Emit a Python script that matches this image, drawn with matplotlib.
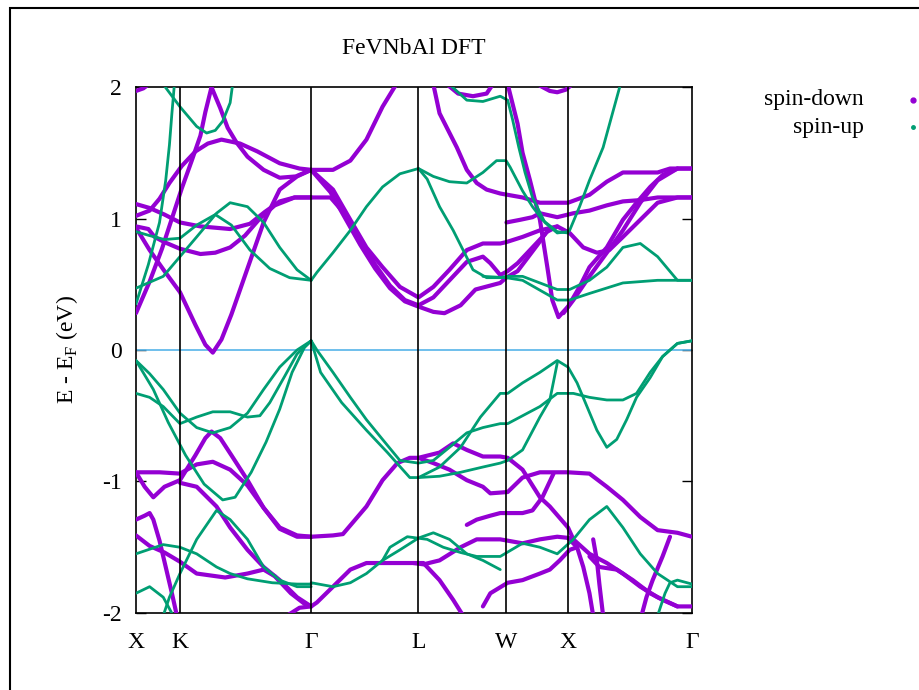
import matplotlib
matplotlib.use("Agg")
import matplotlib.pyplot as plt
from matplotlib.patches import Rectangle
from matplotlib.lines import Line2D

plt.rcParams['font.family'] = ['Liberation Serif', 'DejaVu Serif']
plt.rcParams['mathtext.fontset'] = 'custom'
plt.rcParams['mathtext.rm'] = 'Liberation Serif'
plt.rcParams['axes.unicode_minus'] = False

# high symmetry points (path length, 2pi/a)
kpts = [0.0, 0.354, 1.414, 2.280, 2.987, 3.487, 4.487]
klabels = ['X', 'K', 'Γ', 'L', 'W', 'X', 'Γ']
yticks = [-2, -1, 0, 1, 2]

# spin-down bands  (k, E-Ef)
dn01 = [(0, 1.97), (0.06, 1.99), (0.10, 2.02)]
dn02 = [(0, 0.28), (0.11, 0.52), (0.21, 0.77), (0.29, 1.00), (0.37, 1.23), (0.45, 1.44),
        (0.52, 1.63), (0.56, 1.81), (0.61, 2.0), (0.63, 2.05)]
dn03 = [(0, 1.02), (0.11, 1.06), (0.19, 1.15), (0.27, 1.27), (0.37, 1.40), (0.48, 1.51),
        (0.58, 1.57), (0.69, 1.60), (0.84, 1.57), (0.98, 1.51), (1.16, 1.42), (1.32, 1.38),
        (1.414, 1.37)]
dn04 = [(0.60, 2.02), (0.68, 1.84), (0.74, 1.69), (0.81, 1.58), (0.90, 1.47), (1.03, 1.37),
        (1.16, 1.31), (1.29, 1.32), (1.414, 1.37)]
dn05 = [(0, 1.11), (0.11, 1.08), (0.23, 1.03), (0.355, 0.97), (0.52, 0.94), (0.76, 0.92),
        (0.92, 0.96), (1.04, 1.05), (1.16, 1.13), (1.28, 1.16), (1.414, 1.16)]
dn06 = [(0, 0.94), (0.10, 0.92), (0.15, 0.86), (0.23, 0.82), (0.355, 0.77), (0.52, 0.73),
        (0.64, 0.74), (0.76, 0.78), (0.88, 0.87), (1.00, 1.00), (1.12, 1.10), (1.28, 1.16),
        (1.414, 1.16)]
dn07 = [(0, 0.93), (0.11, 0.76), (0.23, 0.60), (0.355, 0.44), (0.48, 0.19), (0.56, 0.04),
        (0.62, -0.02), (0.69, 0.08), (0.77, 0.27), (0.90, 0.62), (1.03, 0.97), (1.16, 1.22),
        (1.30, 1.32), (1.414, 1.37)]
dn08 = [(0, -0.93), (0.19, -0.93), (0.355, -0.94), (0.49, -0.87), (0.62, -0.85), (0.76, -0.91),
        (0.90, -1.03), (1.03, -1.20), (1.16, -1.35), (1.30, -1.41), (1.414, -1.42)]
dn09 = [(0, -0.93), (0.07, -1.04), (0.14, -1.12), (0.23, -1.04), (0.355, -0.99), (0.48, -0.80),
        (0.56, -0.67), (0.61, -0.62), (0.68, -0.67), (0.77, -0.80), (0.90, -0.99), (1.03, -1.20),
        (1.16, -1.36), (1.30, -1.42), (1.414, -1.42)]
dn10 = [(0.355, -1.01), (0.49, -1.04), (0.65, -1.19), (0.76, -1.35), (0.90, -1.52), (1.03, -1.65),
        (1.16, -1.75), (1.30, -1.88), (1.414, -1.95)]
dn11 = [(0, -1.41), (0.11, -1.49), (0.23, -1.54), (0.355, -1.61), (0.49, -1.70), (0.72, -1.73),
        (0.90, -1.70), (1.03, -1.67), (1.12, -1.72), (1.25, -1.85), (1.36, -1.93), (1.414, -1.95)]
dn12 = [(0, -1.29), (0.07, -1.26), (0.11, -1.24), (0.14, -1.29), (0.19, -1.45), (0.24, -1.65),
        (0.29, -1.85), (0.33, -2.02)]
dn13 = [(1.22, -2.02), (1.32, -1.96), (1.414, -1.95)]
dn14 = [(1.414, 1.37), (1.59, 1.37), (1.73, 1.44), (1.86, 1.60), (1.99, 1.85), (2.10, 2.02)]
dn15 = [(1.414, 1.37), (1.59, 1.22), (1.73, 0.99), (1.86, 0.78), (1.99, 0.63), (2.13, 0.48),
        (2.28, 0.40), (2.40, 0.48), (2.53, 0.61), (2.67, 0.76), (2.80, 0.81), (2.94, 0.81),
        (2.987, 0.82), (3.12, 0.86), (3.26, 0.91), (3.40, 0.94), (3.50, 0.89), (3.61, 0.78),
        (3.72, 0.74), (3.82, 0.76), (3.93, 0.86), (4.07, 0.99), (4.21, 1.12), (4.37, 1.16),
        (4.487, 1.16)]
dn16 = [(1.414, 1.16), (1.57, 1.16), (1.69, 1.03), (1.81, 0.84), (1.93, 0.65), (2.05, 0.49),
        (2.17, 0.38), (2.28, 0.34), (2.40, 0.40), (2.53, 0.53), (2.67, 0.67), (2.80, 0.71),
        (2.86, 0.66), (2.94, 0.57), (3.00, 0.60), (3.08, 0.66), (3.16, 0.74), (3.26, 0.84),
        (3.32, 0.90), (3.40, 0.94)]
dn17 = [(1.414, 1.37), (1.57, 1.20), (1.69, 1.00), (1.81, 0.80), (1.93, 0.62), (2.05, 0.47),
        (2.17, 0.37), (2.28, 0.33), (2.40, 0.29), (2.49, 0.28), (2.62, 0.34), (2.74, 0.46),
        (2.86, 0.49), (2.94, 0.51), (2.987, 0.55), (3.08, 0.60), (3.16, 0.70), (3.24, 0.80),
        (3.30, 0.88)]
dn18 = [(2.40, 2.02), (2.45, 1.80), (2.59, 1.54), (2.67, 1.37), (2.75, 1.27), (2.83, 1.22),
        (2.94, 1.19), (3.12, 1.16), (3.26, 1.12), (3.487, 1.12), (3.66, 1.18), (3.80, 1.28),
        (3.93, 1.35), (4.21, 1.35), (4.31, 1.38), (4.487, 1.38)]
dn19 = [(2.99, 0.97), (3.10, 0.99), (3.20, 1.01), (3.26, 1.04), (3.40, 1.01), (3.53, 1.04),
        (3.66, 1.06), (3.80, 1.10), (3.93, 1.13), (4.07, 1.14), (4.21, 1.16), (4.487, 1.16)]
dn20 = [(3.00, 2.02), (3.08, 1.72), (3.12, 1.50), (3.18, 1.29), (3.26, 0.99), (3.32, 0.63),
        (3.36, 0.38), (3.41, 0.25), (3.487, 0.33), (3.58, 0.48), (3.66, 0.63), (3.80, 0.78),
        (3.93, 0.99), (4.04, 1.12), (4.15, 1.24), (4.25, 1.33), (4.37, 1.38), (4.487, 1.38)]
dn21 = [(3.45, 0.28), (3.53, 0.38), (3.66, 0.56), (3.80, 0.74), (3.93, 0.91), (4.07, 1.12),
        (4.21, 1.29), (4.37, 1.38)]
dn22 = [(2.51, 2.02), (2.60, 1.95), (2.72, 1.93), (2.83, 1.95), (2.88, 2.02)]
dn23 = [(3.26, 2.01), (3.34, 1.97), (3.40, 1.96), (3.47, 1.98), (3.52, 2.02)]
dn24 = [(1.414, -1.42), (1.59, -1.41), (1.67, -1.40), (1.86, -1.19), (1.99, -0.99), (2.11, -0.86),
        (2.21, -0.82), (2.28, -0.82), (2.45, -0.78), (2.56, -0.71), (2.67, -0.76), (2.80, -0.81),
        (2.94, -0.81), (3.00, -0.82), (3.12, -0.91), (3.26, -1.12), (3.34, -1.19), (3.487, -1.35),
        (3.53, -1.44), (3.66, -1.55), (3.80, -1.62), (3.93, -1.70), (4.07, -1.80), (4.21, -1.88),
        (4.37, -1.95), (4.487, -1.95)]
dn25 = [(2.28, -0.82), (2.40, -0.86), (2.53, -0.91), (2.67, -0.99), (2.80, -1.04), (2.86, -1.09),
        (3.00, -1.08), (3.12, -0.97), (3.26, -0.93), (3.487, -0.93), (3.66, -0.94), (3.80, -1.04),
        (3.93, -1.14), (4.07, -1.27), (4.21, -1.37), (4.37, -1.39), (4.487, -1.42)]
dn26 = [(1.414, -1.95), (1.46, -1.92), (1.59, -1.80), (1.73, -1.67), (1.86, -1.62), (2.13, -1.62),
        (2.32, -1.62), (2.45, -1.75), (2.56, -1.90), (2.64, -2.02)]
dn27 = [(2.24, -1.62), (2.32, -1.63), (2.45, -1.60), (2.62, -1.50), (2.75, -1.44), (2.94, -1.44),
        (3.12, -1.47), (3.26, -1.44), (3.40, -1.42), (3.50, -1.43)]
dn28 = [(3.487, -1.43), (3.56, -1.50), (3.61, -1.65), (3.66, -1.85), (3.69, -2.02)]
dn29 = [(4.31, -1.42), (4.25, -1.57), (4.17, -1.75), (4.12, -1.88), (4.08, -2.02)]
dn30 = [(2.80, -1.95), (2.86, -1.85), (3.00, -1.77), (3.12, -1.75), (3.26, -1.70), (3.34, -1.67),
        (3.42, -1.60), (3.50, -1.52), (3.56, -1.50)]
dn31 = [(2.67, -1.33), (2.75, -1.29), (2.86, -1.26), (2.94, -1.24), (3.12, -1.24), (3.20, -1.22),
        (3.28, -1.12), (3.37, -0.94)]
dn32 = [(3.66, -1.57), (3.74, -1.65), (3.88, -1.67), (4.01, -1.75), (4.15, -1.85),
        (4.25, -1.90), (4.37, -1.95)]
dn33 = [(3.69, -1.44), (3.72, -1.60), (3.74, -1.78), (3.77, -2.02)]

# spin-up bands
up01 = [(0.22, 2.02), (0.355, 1.85), (0.49, 1.70), (0.57, 1.65), (0.64, 1.67), (0.70, 1.74),
        (0.76, 1.88), (0.78, 2.02)]
up02 = [(0, 0.35), (0.10, 0.65), (0.19, 0.97), (0.24, 1.29), (0.27, 1.56), (0.29, 1.80),
        (0.31, 2.02)]
up03 = [(0, 0.47), (0.22, 0.56), (0.49, 0.86), (0.65, 1.04), (0.76, 1.12), (0.90, 1.09),
        (1.03, 0.97), (1.16, 0.78), (1.30, 0.61), (1.414, 0.53)]
up04 = [(0, 0.90), (0.11, 0.87), (0.23, 0.84), (0.355, 0.85), (0.49, 0.95), (0.64, 1.03),
        (0.77, 0.95), (0.92, 0.76), (1.08, 0.62), (1.24, 0.55), (1.414, 0.53)]
up05 = [(0, -0.08), (0.11, -0.18), (0.22, -0.30), (0.355, -0.48), (0.49, -0.59), (0.62, -0.63),
        (0.76, -0.59), (0.90, -0.48), (1.03, -0.30), (1.16, -0.13), (1.30, 0.0), (1.414, 0.07)]
up06 = [(0, -0.33), (0.11, -0.36), (0.22, -0.43), (0.355, -0.56), (0.49, -0.51), (0.62, -0.47),
        (0.76, -0.47), (0.90, -0.51), (1.00, -0.50), (1.08, -0.40), (1.20, -0.20), (1.30, -0.03),
        (1.414, 0.07)]
up07 = [(0, -0.08), (0.14, -0.30), (0.26, -0.55), (0.40, -0.80), (0.55, -1.02), (0.70, -1.14),
        (0.80, -1.12), (0.93, -0.93), (1.05, -0.70), (1.16, -0.45), (1.26, -0.17), (1.36, 0.02),
        (1.414, 0.07)]
up08 = [(0, -1.55), (0.22, -1.48), (0.355, -1.50), (0.49, -1.55), (0.65, -1.65), (0.76, -1.70),
        (0.90, -1.74), (1.10, -1.77), (1.30, -1.78), (1.414, -1.78)]
up09 = [(0.22, -2.02), (0.27, -1.88), (0.355, -1.70), (0.49, -1.44), (0.65, -1.22), (0.76, -1.29),
        (0.90, -1.44), (1.03, -1.65), (1.16, -1.75), (1.30, -1.80), (1.414, -1.80)]
up10 = [(0, -1.85), (0.11, -1.80), (0.22, -1.88), (0.30, -2.02)]
up11 = [(1.414, 0.53), (1.46, 0.59), (1.59, 0.74), (1.73, 0.91), (1.86, 1.09), (1.99, 1.24),
        (2.13, 1.34), (2.28, 1.38), (2.40, 1.32), (2.53, 1.28), (2.67, 1.27), (2.80, 1.35),
        (2.91, 1.44), (2.987, 1.44), (3.02, 1.39), (3.12, 1.21), (3.20, 1.09), (3.28, 0.99),
        (3.40, 0.90), (3.487, 0.89)]
up12 = [(2.28, 1.38), (2.35, 1.30), (2.45, 1.09), (2.56, 0.91), (2.64, 0.76), (2.72, 0.61),
        (2.83, 0.55), (2.94, 0.55), (2.987, 0.56), (3.12, 0.56), (3.26, 0.51), (3.40, 0.46),
        (3.50, 0.46), (3.66, 0.53), (3.80, 0.63), (3.93, 0.78), (4.07, 0.81), (4.21, 0.71),
        (4.37, 0.53), (4.487, 0.53)]
up13 = [(2.80, 0.56), (2.987, 0.55), (3.12, 0.53), (3.40, 0.38), (3.50, 0.38), (3.66, 0.43),
        (3.93, 0.51), (4.21, 0.53), (4.487, 0.53)]
up14 = [(2.53, 2.02), (2.67, 1.90), (2.80, 1.89), (2.94, 1.93), (3.00, 1.90), (3.04, 1.75),
        (3.09, 1.54), (3.14, 1.35), (3.20, 1.16), (3.30, 0.97), (3.40, 0.89), (3.487, 0.90)]
up15 = [(3.487, 0.90), (3.50, 0.91), (3.58, 1.09), (3.66, 1.29), (3.77, 1.54), (3.91, 2.02)]
up16 = [(1.414, 0.07), (1.46, 0.0), (1.59, -0.17), (1.73, -0.36), (1.86, -0.53), (1.99, -0.68),
        (2.13, -0.84), (2.28, -0.86), (2.40, -0.84), (2.53, -0.74), (2.67, -0.63), (2.80, -0.59),
        (2.94, -0.56), (3.00, -0.56), (3.12, -0.50), (3.26, -0.43), (3.40, -0.33), (3.53, -0.33),
        (3.66, -0.36), (3.80, -0.38), (3.93, -0.38), (4.04, -0.33), (4.15, -0.17), (4.25, -0.05),
        (4.37, 0.05), (4.487, 0.07)]
up17 = [(1.414, 0.07), (1.49, -0.17), (1.66, -0.40), (1.86, -0.61), (2.03, -0.78), (2.21, -0.97),
        (2.28, -0.97), (2.45, -0.89), (2.62, -0.74), (2.78, -0.51), (2.94, -0.33), (3.00, -0.33),
        (3.12, -0.25), (3.26, -0.17), (3.40, -0.08), (3.487, -0.13), (3.56, -0.25), (3.64, -0.43),
        (3.72, -0.61), (3.80, -0.74), (3.88, -0.68), (3.96, -0.53), (4.04, -0.36), (4.15, -0.21),
        (4.25, -0.05), (4.37, 0.05), (4.487, 0.07)]
up18 = [(2.28, -0.97), (2.45, -0.96), (2.62, -0.93), (2.80, -0.89), (2.94, -0.86), (3.00, -0.84),
        (3.12, -0.76), (3.26, -0.51), (3.34, -0.38), (3.40, -0.10)]
up19 = [(1.414, -1.77), (1.59, -1.80), (1.73, -1.77), (1.86, -1.70), (1.99, -1.60), (2.13, -1.52),
        (2.28, -1.43), (2.40, -1.39), (2.53, -1.44), (2.67, -1.55), (2.80, -1.60), (2.94, -1.67)]
up20 = [(1.99, -1.60), (2.05, -1.50), (2.19, -1.42), (2.35, -1.44), (2.48, -1.50), (2.62, -1.54),
        (2.75, -1.57), (2.94, -1.57), (3.12, -1.47), (3.26, -1.50), (3.40, -1.55), (3.53, -1.44),
        (3.66, -1.29), (3.80, -1.19), (3.93, -1.35), (4.07, -1.55), (4.21, -1.70), (4.37, -1.80),
        (4.487, -1.80)]
up21 = [(4.21, -2.02), (4.27, -1.85), (4.31, -1.77), (4.37, -1.75), (4.487, -1.78)]

bands_dn = [dn01, dn02, dn03, dn04, dn05, dn06, dn07, dn08, dn09, dn10, dn11, dn12, dn13, dn14, dn15,
            dn16, dn17, dn18, dn19, dn20, dn21, dn22, dn23, dn24, dn25, dn26, dn27, dn28, dn29, dn30,
            dn31, dn32, dn33]
bands_up = [up01, up02, up03, up04, up05, up06, up07, up08, up09, up10, up11, up12, up13, up14, up15,
            up16, up17, up18, up19, up20, up21]

c_dn = '#9400d3'
c_up = '#009e73'
fs = 17

fig = plt.figure(figsize=(9.2, 6.9), dpi=100)
ax = fig.add_axes([0.1478, 0.1116, 0.6043, 0.7623])

for b in bands_dn:
    ax.plot([p[0] for p in b], [p[1] for p in b], color=c_dn, lw=3.0,
            solid_capstyle='round', solid_joinstyle='round', zorder=3)
for b in bands_up:
    ax.plot([p[0] for p in b], [p[1] for p in b], color=c_up, lw=2.0,
            solid_capstyle='round', solid_joinstyle='round', zorder=4)

ax.axhline(0, color='#56b4e9', lw=1.2, zorder=2)
for k in kpts[1:-1]:
    ax.axvline(k, color='black', lw=1.2, zorder=5)

ax.set_xlim(kpts[0], kpts[-1])
ax.set_ylim(-2, 2)
ax.set_xticks(kpts)
ax.set_xticklabels(klabels)
ax.set_yticks(yticks)
ax.tick_params(axis='x', length=0, pad=14, labelsize=fs)
ax.tick_params(axis='y', direction='in', length=7, width=1, right=True, labelsize=fs, pad=10)
for s in ax.spines.values():
    s.set_linewidth(1.2)
ax.set_ylabel('E - E$_\\mathrm{F}$ (eV)', fontsize=fs, labelpad=16)
ax.set_title('FeVNbAl DFT', fontsize=fs, pad=24)

# legend in gnuplot style
fig.text(864 / 920, 1 - 100 / 690, 'spin-down', ha='right', va='center', fontsize=fs)
fig.text(864 / 920, 1 - 127 / 690, 'spin-up', ha='right', va='center', fontsize=fs)
fig.add_artist(Line2D([913 / 920], [1 - 100 / 690], marker='o', ms=3.5, color=c_dn, lw=0))
fig.add_artist(Line2D([913 / 920], [1 - 127 / 690], marker='o', ms=2.5, color=c_up, lw=0))

fig.add_artist(Rectangle((10 / 920, -0.1), 1.2, 1.1 - 8 / 690, fill=False, lw=1.5,
                         edgecolor='black', transform=fig.transFigure))

fig.savefig('out.png', dpi=100)
